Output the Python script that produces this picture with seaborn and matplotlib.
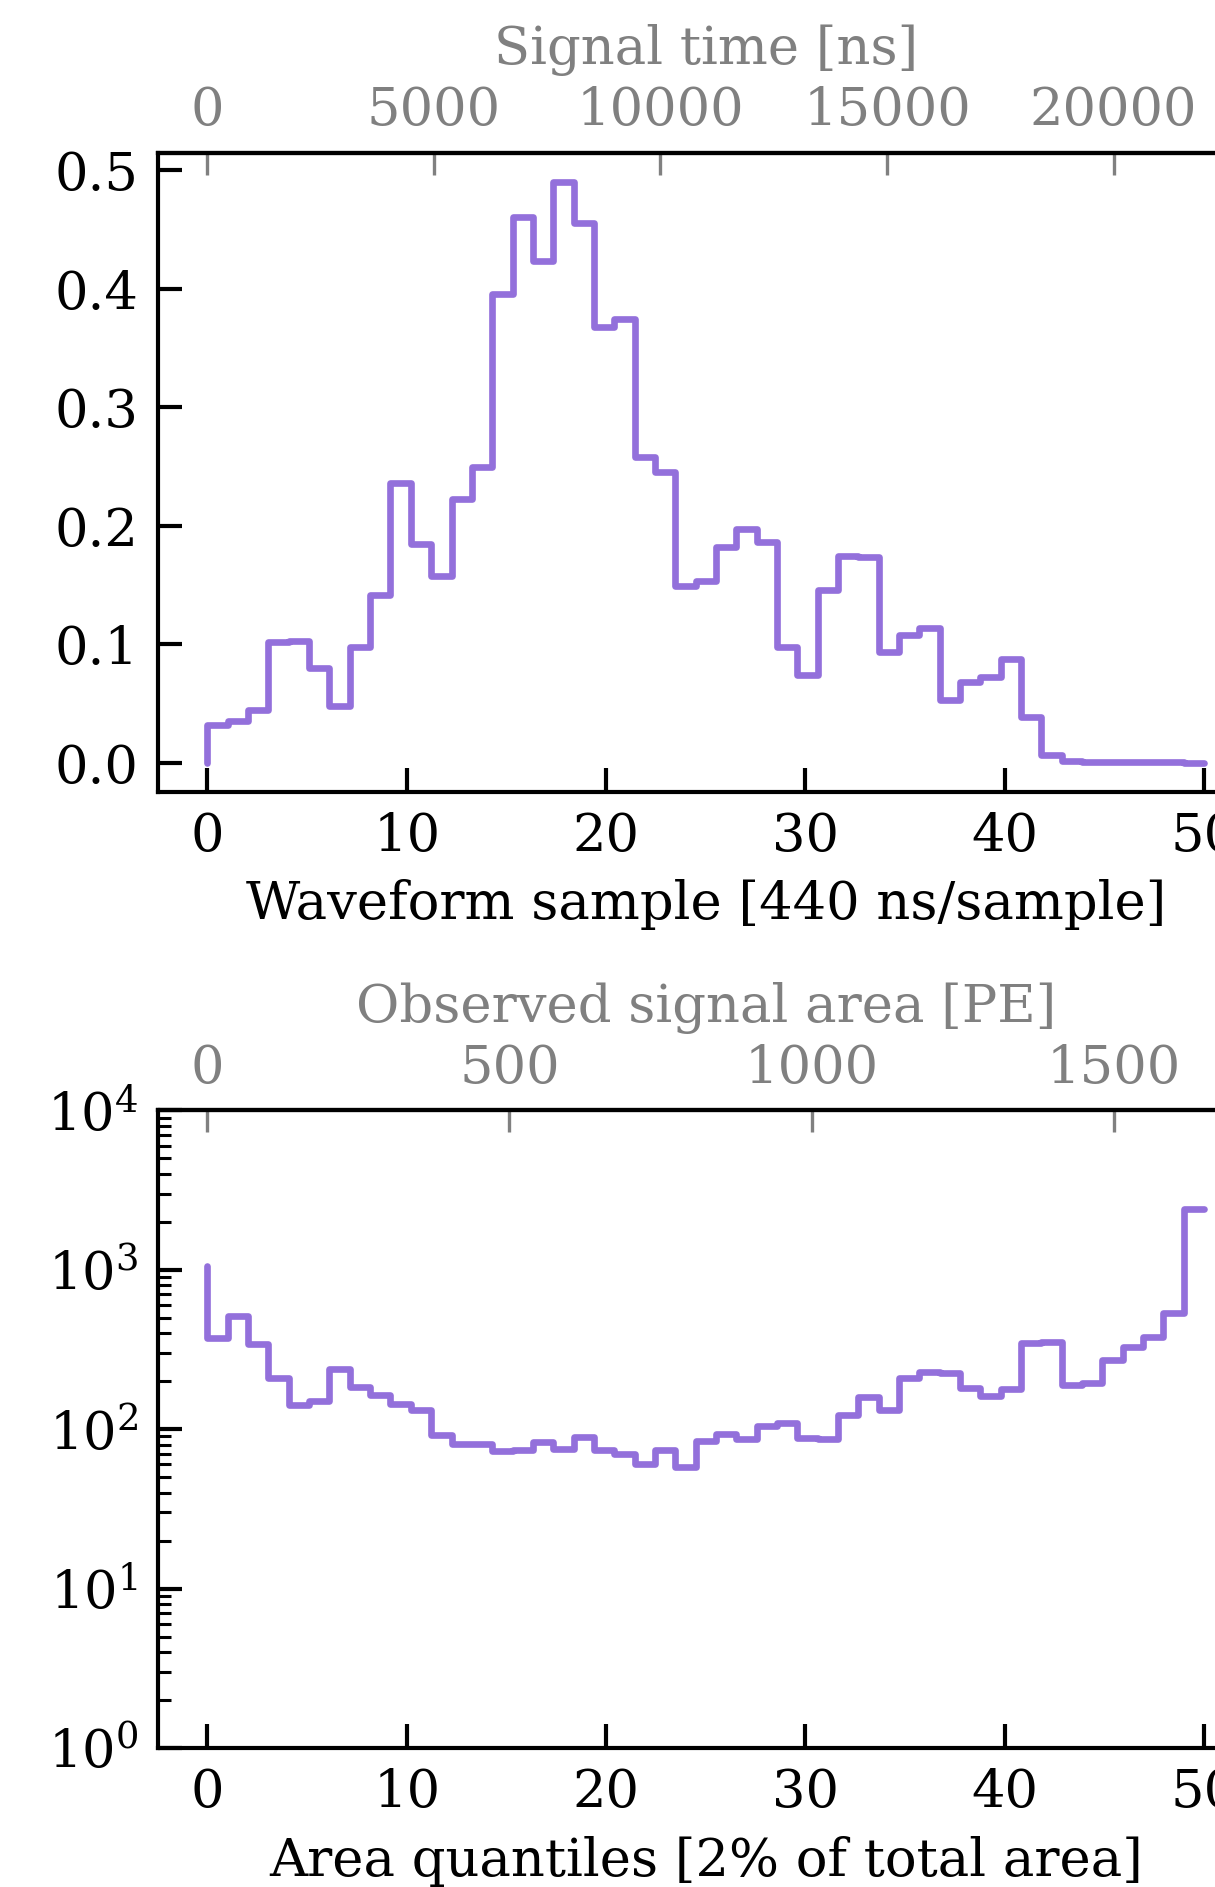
import numpy as np
import matplotlib
matplotlib.use("Agg")
import matplotlib.pyplot as plt
import seaborn as sns

# ---- data ----
n_points = 50
sample_pos = np.linspace(0, 50, n_points)  # waveform sample index / area-quantile index

waveform = [0.0, 0.0315, 0.0354, 0.0441, 0.102, 0.1028, 0.0798, 0.048, 0.0972, 0.1416,
            0.2356, 0.1842, 0.1575, 0.2222, 0.249, 0.3957, 0.460, 0.4234, 0.490, 0.455,
            0.3676, 0.374, 0.2576, 0.245, 0.1488, 0.1532, 0.1822, 0.1972, 0.1865, 0.0972,
            0.0742, 0.1455, 0.1739, 0.1735, 0.0934, 0.1077, 0.1134, 0.0529, 0.0683, 0.0726,
            0.0875, 0.0383, 0.0065, 0.0014, 0.0005, 0.0003, 0.0002, 0.0001, 0.0001, 0.0]

area_quantiles = [1049, 372, 513, 341, 208, 142, 151, 239, 185, 164,
                  143, 132, 92, 80.7, 80.7, 73, 74, 83.5, 74.8, 89.8,
                  74, 69.6, 60.5, 74, 58.2, 84.7, 92.9, 86.8, 104.7, 109.9,
                  87.7, 86.5, 122.8, 158.5, 132, 208.6, 227.5, 226, 180.5, 162,
                  178, 346, 354, 189, 194, 272, 329, 380, 538, 2395]

ns_per_sample = 440
pe_per_quantile = 33

time_ticks = [0, 5000, 10000, 15000, 20000]
pe_ticks = [0, 500, 1000, 1500]

# ---- style ----
sns.set_style("ticks")
plt.rcParams["font.family"] = ["DejaVu Serif"]
plt.rcParams["mathtext.fontset"] = "dejavuserif"
plt.rcParams["text.color"] = "black"
plt.rcParams["axes.labelcolor"] = "black"
plt.rcParams["axes.edgecolor"] = "black"
plt.rcParams["xtick.color"] = "black"
plt.rcParams["ytick.color"] = "black"

FS = 38
LINE_COLOR = "#9370DB"
GREY = "#808080"

fig = plt.figure(figsize=(12.15, 18.87), dpi=100)
ax1 = fig.add_axes([0.1297, 0.5805, 0.9024, 0.3385])
ax2 = fig.add_axes([0.1297, 0.0737, 0.9024, 0.3379])

sns.lineplot(x=sample_pos, y=waveform, ax=ax1, drawstyle="steps-pre",
             color=LINE_COLOR, linewidth=4.8)
sns.lineplot(x=sample_pos, y=area_quantiles, ax=ax2, drawstyle="steps-pre",
             color=LINE_COLOR, linewidth=4.8)

ax2.set_yscale("log")
ax2.set_ylim(1, 1e4)

for ax in (ax1, ax2):
    for sp in ax.spines.values():
        sp.set_linewidth(3.0)
        sp.set_color("black")
    ax.tick_params(axis="both", which="major", direction="in", length=17, width=3.0,
                   labelsize=FS, pad=14, top=False, right=False,
                   colors="black")
    ax.tick_params(axis="both", which="minor", direction="in", length=9, width=2.2,
                   top=False, right=False, colors="black")

ax1.set_xlabel("Waveform sample [440 ns/sample]", fontsize=FS, labelpad=12)
ax2.set_xlabel("Area quantiles [2% of total area]", fontsize=FS, labelpad=13)
ax1.set_ylabel("")
ax2.set_ylabel("")

sec1 = ax1.secondary_xaxis("top", functions=(lambda s: s * ns_per_sample,
                                             lambda t: t / ns_per_sample))
sec1.set_xticks(time_ticks)
sec1.set_xlabel("Signal time [ns]", color=GREY, fontsize=FS, labelpad=15)

sec2 = ax2.secondary_xaxis("top", functions=(lambda s: s * pe_per_quantile,
                                             lambda a: a / pe_per_quantile))
sec2.set_xticks(pe_ticks)
sec2.set_xlabel("Observed signal area [PE]", color=GREY, fontsize=FS, labelpad=15)

for sec in (sec1, sec2):
    sec.tick_params(axis="x", which="major", direction="in", length=16, width=2.4,
                    colors=GREY, labelsize=FS, pad=12)
    sec.tick_params(axis="x", which="minor", length=0)
    sec.spines["top"].set_linewidth(3.0)
    sec.spines["top"].set_color("black")

fig.savefig("out.png", dpi=100)
